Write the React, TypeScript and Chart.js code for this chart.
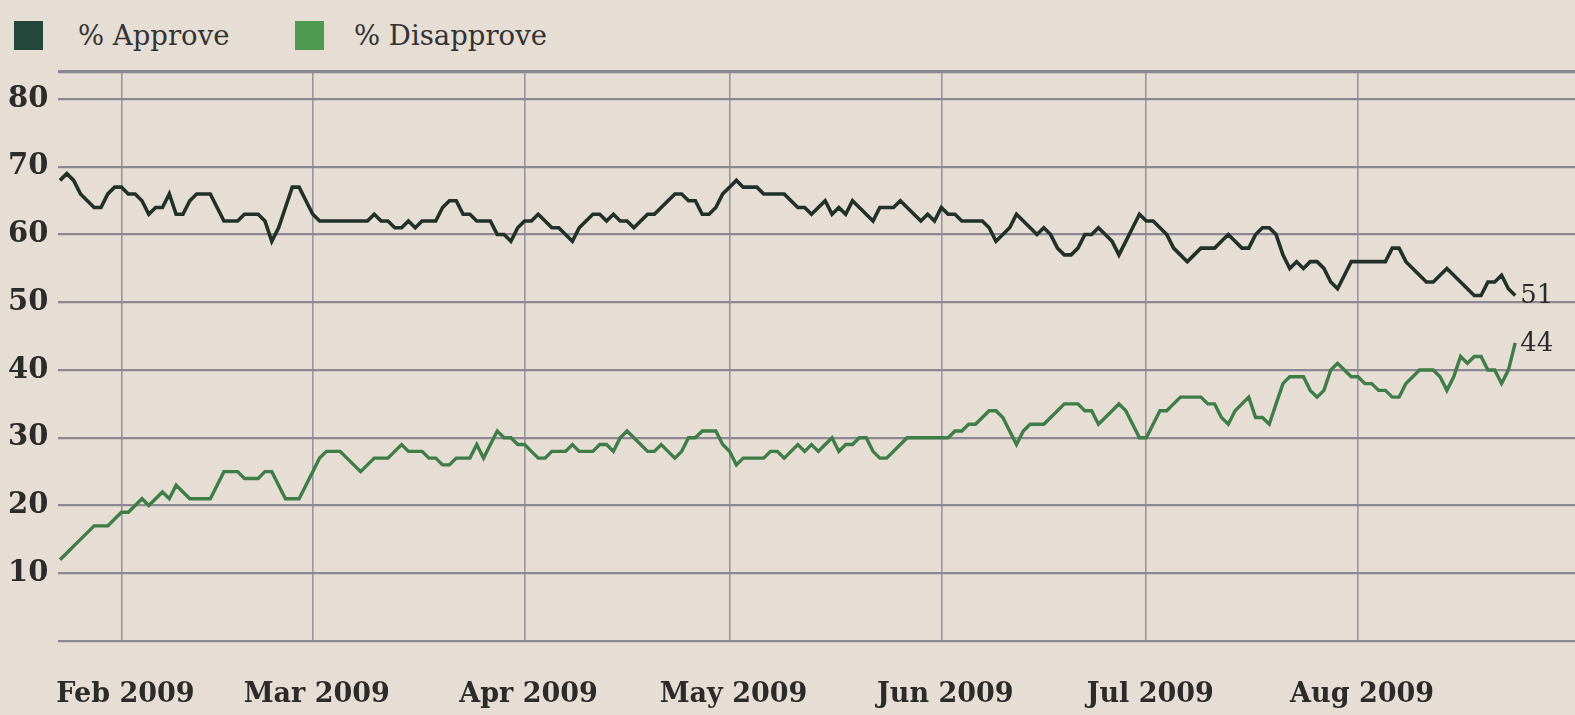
import React, { useEffect, useRef } from "react";
import { Chart, registerables } from "chart.js";

Chart.register(...registerables);

// Day numbers counted from Jan 1, 2009 (= day 0). First daily reading: day 22.
const FIRST_DAY = 22;

const approveValues = [
  68, 69, 68, 66, 65, 64, 64, 66, 67, 67,
  66, 66, 65, 63, 64, 64, 66, 63, 63, 65,
  66, 66, 66, 64, 62, 62, 62, 63, 63, 63,
  62, 59, 61, 64, 67, 67, 65, 63, 62, 62,
  62, 62, 62, 62, 62, 62, 63, 62, 62, 61,
  61, 62, 61, 62, 62, 62, 64, 65, 65, 63,
  63, 62, 62, 62, 60, 60, 59, 61, 62, 62,
  63, 62, 61, 61, 60, 59, 61, 62, 63, 63,
  62, 63, 62, 62, 61, 62, 63, 63, 64, 65,
  66, 66, 65, 65, 63, 63, 64, 66, 67, 68,
  67, 67, 67, 66, 66, 66, 66, 65, 64, 64,
  63, 64, 65, 63, 64, 63, 65, 64, 63, 62,
  64, 64, 64, 65, 64, 63, 62, 63, 62, 64,
  63, 63, 62, 62, 62, 62, 61, 59, 60, 61,
  63, 62, 61, 60, 61, 60, 58, 57, 57, 58,
  60, 60, 61, 60, 59, 57, 59, 61, 63, 62,
  62, 61, 60, 58, 57, 56, 57, 58, 58, 58,
  59, 60, 59, 58, 58, 60, 61, 61, 60, 57,
  55, 56, 55, 56, 56, 55, 53, 52, 54, 56,
  56, 56, 56, 56, 56, 58, 58, 56, 55, 54,
  53, 53, 54, 55, 54, 53, 52, 51, 51, 53,
  53, 54, 52, 51,
];

const disapproveValues = [
  12, 13, 14, 15, 16, 17, 17, 17, 18, 19,
  19, 20, 21, 20, 21, 22, 21, 23, 22, 21,
  21, 21, 21, 23, 25, 25, 25, 24, 24, 24,
  25, 25, 23, 21, 21, 21, 23, 25, 27, 28,
  28, 28, 27, 26, 25, 26, 27, 27, 27, 28,
  29, 28, 28, 28, 27, 27, 26, 26, 27, 27,
  27, 29, 27, 29, 31, 30, 30, 29, 29, 28,
  27, 27, 28, 28, 28, 29, 28, 28, 28, 29,
  29, 28, 30, 31, 30, 29, 28, 28, 29, 28,
  27, 28, 30, 30, 31, 31, 31, 29, 28, 26,
  27, 27, 27, 27, 28, 28, 27, 28, 29, 28,
  29, 28, 29, 30, 28, 29, 29, 30, 30, 28,
  27, 27, 28, 29, 30, 30, 30, 30, 30, 30,
  30, 31, 31, 32, 32, 33, 34, 34, 33, 31,
  29, 31, 32, 32, 32, 33, 34, 35, 35, 35,
  34, 34, 32, 33, 34, 35, 34, 32, 30, 30,
  32, 34, 34, 35, 36, 36, 36, 36, 35, 35,
  33, 32, 34, 35, 36, 33, 33, 32, 35, 38,
  39, 39, 39, 37, 36, 37, 40, 41, 40, 39,
  39, 38, 38, 37, 37, 36, 36, 38, 39, 40,
  40, 40, 39, 37, 39, 42, 41, 42, 42, 40,
  40, 38, 40, 44,
];

const monthStartDays = [31, 59, 90, 120, 151, 181, 212];
const monthLabels = ["Feb 2009", "Mar 2009", "Apr 2009", "May 2009", "Jun 2009", "Jul 2009", "Aug 2009"];
const yTickValues = [10, 20, 30, 40, 50, 60, 70, 80];
const seriesNames = ["% Approve", "% Disapprove"];

const X_MIN = 21.71;
const X_MAX = 243.75;
const Y_MIN = 0;
const Y_MAX = 84;

const PAPER = "#e6ddd5";
const APPROVE_COLOR = "#1f3129";
const DISAPPROVE_COLOR = "#3f7d47";
const LEGEND_COLORS = ["#23473a", "#4f9a4e"];
const TEXT_COLOR = "#2b2b2b";

const toPoints = (vals: number[]) => vals.map((v, i) => ({ x: FIRST_DAY + i, y: v }));

const endLabelPlugin = {
  id: "endLabels",
  afterDatasetsDraw(chart: any) {
    const ctx = chart.ctx;
    chart.data.datasets.forEach((ds: any, i: number) => {
      const meta = chart.getDatasetMeta(i);
      const el = meta.data[meta.data.length - 1];
      const last = ds.data[ds.data.length - 1];
      if (!el) return;
      ctx.save();
      ctx.font = "26px 'DejaVu Serif'";
      ctx.fillStyle = TEXT_COLOR;
      ctx.textAlign = "left";
      ctx.textBaseline = "middle";
      ctx.fillText(String(last.y), el.x + 5, el.y + 1);
      ctx.restore();
    });
  },
};

export default function App() {
  const canvasRef = useRef<HTMLCanvasElement | null>(null);

  useEffect(() => {
    if (!canvasRef.current) return;
    const chart = new Chart(canvasRef.current, {
      type: "line",
      data: {
        datasets: [
          {
            label: seriesNames[0],
            data: toPoints(approveValues),
            borderColor: APPROVE_COLOR,
            borderWidth: 3.6,
            pointRadius: 0,
            tension: 0,
            fill: false,
          },
          {
            label: seriesNames[1],
            data: toPoints(disapproveValues),
            borderColor: DISAPPROVE_COLOR,
            borderWidth: 3.4,
            pointRadius: 0,
            tension: 0,
            fill: false,
          },
        ],
      },
      options: {
        responsive: false,
        maintainAspectRatio: false,
        animation: false,
        layout: { padding: { left: 8, top: 72, right: 0, bottom: 0 } },
        plugins: {
          legend: { display: false },
          tooltip: { enabled: false },
        },
        scales: {
          x: {
            type: "linear",
            min: X_MIN,
            max: X_MAX,
            afterBuildTicks: (s: any) => {
              s.ticks = monthStartDays.map((v) => ({ value: v }));
            },
            afterFit: (s: any) => {
              s.height = 74;
            },
            grid: { color: "#98959f", lineWidth: 1.6, drawTicks: false },
            border: { display: false },
            ticks: {
              autoSkip: false,
              maxRotation: 0,
              padding: 38,
              labelOffset: 4,
              color: TEXT_COLOR,
              font: { family: "'DejaVu Serif'", size: 27, weight: "bold" },
              callback: (v: any) => {
                const idx = monthStartDays.indexOf(Number(v));
                return idx >= 0 ? monthLabels[idx] : "";
              },
            },
          },
          y: {
            min: Y_MIN,
            max: Y_MAX,
            afterBuildTicks: (s: any) => {
              s.ticks = [Y_MIN, ...yTickValues, Y_MAX].map((v) => ({ value: v }));
            },
            afterFit: (s: any) => {
              s.width = 50;
            },
            grid: {
              color: "#8b8893",
              lineWidth: (c: any) => (c.tick && c.tick.value === Y_MAX ? 3.2 : 2.2),
              drawTicks: false,
            },
            border: { display: false },
            ticks: {
              crossAlign: "far",
              padding: 0,
              color: TEXT_COLOR,
              font: { family: "'DejaVu Serif'", size: 29, weight: "bold" },
              callback: (v: any) => (yTickValues.includes(Number(v)) ? String(v) : ""),
            },
          },
        },
      },
      plugins: [endLabelPlugin],
    });
    return () => chart.destroy();
  }, []);

  return (
    <div
      style={{
        position: "fixed",
        left: 0,
        top: 0,
        width: 1575,
        height: 715,
        background: PAPER,
        overflow: "hidden",
      }}
    >
      {seriesNames.map((name, i) => (
        <div
          key={name}
          style={{
            position: "absolute",
            left: i === 0 ? 14 : 295,
            top: 20,
            height: 30,
            display: "flex",
            alignItems: "center",
            fontFamily: "'DejaVu Serif'",
            fontSize: 27.5,
            color: "#333333",
            whiteSpace: "nowrap",
          }}
        >
          <span
            style={{
              display: "inline-block",
              width: 29,
              height: 29,
              background: LEGEND_COLORS[i],
              marginRight: i === 0 ? 35 : 30,
            }}
          />
          <span>{name}</span>
        </div>
      ))}
      <canvas
        ref={canvasRef}
        width={1575}
        height={715}
        style={{ position: "absolute", left: 0, top: 0, display: "block" }}
      />
    </div>
  );
}
